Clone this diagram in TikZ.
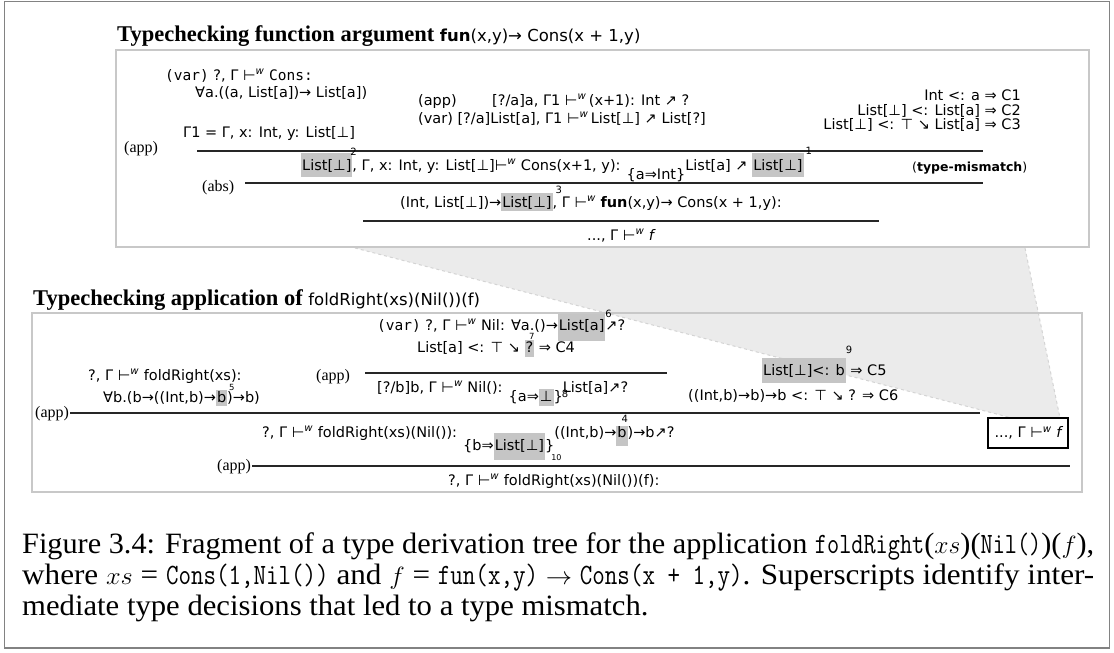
\documentclass[tikz,border=0pt]{standalone}
\usepackage{fontspec}
\usepackage{graphicx}
\setmainfont{Liberation Serif}
\setsansfont{DejaVu Sans}
\newfontfamily\dvmono{DejaVu Sans Mono}
\definecolor{hlgray}{RGB}{197,197,197}
\definecolor{boxgray}{RGB}{200,200,200}
\definecolor{framegray}{RGB}{130,130,130}
\definecolor{trapgray}{RGB}{235,235,235}
\definecolor{trapedge}{RGB}{212,212,212}
\newcommand\tw{⊢\textsuperscript{\itshape w}}
\newcommand\hlb[3]{{\setlength\fboxsep{0pt}\colorbox{hlgray}{\kern1pt\rule[-#2]{0pt}{\dimexpr#1+#2\relax}#3\kern1pt}}}
\newcommand\sn[3]{\rlap{\kern#2\raisebox{#1}{\fontsize{10}{10}\selectfont #3}}}
\newcommand\snsmall[3]{\rlap{\kern#2\raisebox{#1}{\fontsize{8.5}{9}\selectfont #3}}}
\newcommand\cm[1]{\scalebox{0.78}[1]{\ttfamily #1}}
\begin{document}
\begin{tikzpicture}[x=1pt,y=-1pt,
  dtext/.style={anchor=base west,inner sep=0pt,font=\fontsize{14.5}{17}\selectfont\sffamily},
  rtext/.style={anchor=base east,inner sep=0pt,font=\fontsize{14.5}{17}\selectfont\sffamily},
  rulelabel/.style={anchor=base west,inner sep=0pt,font=\fontsize{16}{18}\selectfont\rmfamily},
  heading/.style={anchor=base west,inner sep=0pt,font=\fontsize{22.5}{26}\selectfont\rmfamily\bfseries},
  captionline/.style={anchor=base west,inner sep=0pt,font=\fontsize{29.5}{31}\selectfont\rmfamily},
  ruleline/.style={draw=black!85,line width=1.2pt},
  panel/.style={draw=boxgray,line width=2pt},
  outerframe/.style={draw=framegray,line width=1.5pt}]
\useasboundingbox (0,0) rectangle (1114,653);
\draw[outerframe] (4.5,1.5) rectangle (1109.5,648);

% trapezoid joining the two panels
\coordinate (tz1) at (355,248);
\coordinate (tz2) at (1025,248);
\coordinate (tz3) at (1060,418);
\coordinate (tz4) at (1012,418);
\fill[trapgray] (tz1) -- (tz2) -- (tz3) -- (tz4) -- cycle;
\draw[trapedge,dashed,line width=1pt] (tz1) -- (tz4) (tz2) -- (tz3);

% ---------- top panel ----------
\node[heading] (h1) at (117,41) {Typechecking function argument \fontsize{16.5}{19}\selectfont\sffamily\mdseries{\bfseries fun}(x,y)→ Cons(x + 1,y)};
\draw[panel] (116,50) rectangle (1089,247);

\node[dtext] (t1) at (165,80) {{\dvmono (var)} ?, Γ \tw\ {\dvmono Cons:}};
\node[dtext] (t2) at (195,97) {∀a.((a, List[a])→ List[a])};
\node[dtext] (t3) at (183,137) {Γ1 = Γ, x: Int, y: List[⊥]};
\node[dtext] (t4a) at (418,105) {(app)};
\node[dtext] (t4b) at (492,105) {[?/a]a, Γ1 \tw\,(x+1): Int ↗ ?};
\node[dtext] (t5) at (418,123) {(var) [?/a]List[a], Γ1 \tw\,List[⊥] ↗ List[?]};
\node[rtext] (c1) at (1021,100) {Int <: a ⇒ C1};
\node[rtext] (c2) at (1021,115) {List[⊥] <: List[a] ⇒ C2};
\node[rtext] (c3) at (1021,129) {List[⊥] <: ⊤ ↘ List[a] ⇒ C3};

\node[rulelabel] (l1) at (124,152) {(app)};
\coordinate (r1a) at (197,151); \coordinate (r1b) at (983,151);
\draw[ruleline] (r1a) -- (r1b);

\node[dtext] (k1) at (301,170) {\hlb{17pt}{7pt}{List[⊥]}\sn{15pt}{-2pt}{2}, Γ, x: Int, y: List[⊥]\tw\ Cons(x+1, y): \raisebox{-9pt}{\{a⇒Int\}}List[a] ↗ \hlb{17pt}{7pt}{List[⊥]}\sn{16pt}{2pt}{1}};
\node[dtext,font=\fontsize{12.5}{15}\selectfont\sffamily] (tm) at (912,171) {(\textbf{type-mismatch})};

\node[rulelabel] (l2) at (202,191) {(abs)};
\coordinate (r2a) at (245,183); \coordinate (r2b) at (983,183);
\draw[ruleline] (r2a) -- (r2b);

\node[dtext] (k2) at (400,207) {(Int, List[⊥])→\hlb{14pt}{4pt}{List[⊥]}\sn{14pt}{3pt}{3}, Γ \tw\ \textbf{fun}(x,y)→ Cons(x + 1,y):};
\coordinate (r3a) at (363,221); \coordinate (r3b) at (879,221);
\draw[ruleline] (r3a) -- (r3b);
\node[dtext] (k3) at (587,240) {..., Γ \tw\ {\itshape f}};

% ---------- bottom panel ----------
\node[heading] (h2) at (33,305) {Typechecking application of \fontsize{16.5}{19}\selectfont\sffamily\mdseries foldRight(xs)(Nil())(f)};
\draw[panel] (32,313) rectangle (1082,492);

\node[dtext] (b1) at (377,330) {{\dvmono (var)} ?, Γ \tw\ Nil: ∀a.()→\hlb{16pt}{11pt}{List[a]}\sn{13pt}{0pt}{6}↗?};
\node[dtext] (b2) at (417,352) {List[a] <: ⊤ ↘ \hlb{12pt}{5pt}{?}\snsmall{12.5pt}{-5pt}{7}~⇒ C4};
\node[rulelabel] (l3) at (316,380) {(app)};
\coordinate (r4a) at (365,373); \coordinate (r4b) at (667,373);
\draw[ruleline] (r4a) -- (r4b);
\node[dtext] (b3) at (377,392) {[?/b]b, Γ \tw\ Nil(): \raisebox{-9pt}{\{a⇒\hlb{12pt}{5pt}{⊥}\}\sn{4pt}{-1pt}{8}}List[a]↗?};

\node[dtext] (b4) at (88,380) {?, Γ \tw\ foldRight(xs):};
\node[dtext] (b5) at (103,402) {∀b.(b→((Int,b)→\hlb{12pt}{4pt}{b}\snsmall{12pt}{2pt}{5})→b)};

\node[dtext] (b6) at (762,375) {\hlb{17pt}{8pt}{List[⊥]<: b}\sn{22pt}{0pt}{9} ⇒ C5};
\node[dtext] (b7) at (688,400) {((Int,b)→b)→b <: ⊤ ↘ ? ⇒ C6};

\node[rulelabel] (l4) at (35,417) {(app)};
\coordinate (r5a) at (70,413); \coordinate (r5b) at (980,413);
\draw[ruleline] (r5a) -- (r5b);

\node[dtext] (b8) at (262,437) {?, Γ \tw\ foldRight(xs)(Nil()): \raisebox{-13pt}{\{b⇒\hlb{17pt}{10pt}{List[⊥]}\}\sn{-10pt}{-3pt}{\fontsize{8}{8}\selectfont 10}}((Int,b)→\hlb{11pt}{9pt}{b}\sn{15pt}{-6pt}{4})→b↗?};
\node[draw=black,line width=1.6pt,minimum width=80pt,minimum height=30pt,inner sep=2pt,font=\fontsize{14.5}{17}\selectfont\sffamily] (fbox) at (1028,433) {..., Γ \tw\ {\itshape f}};

\node[rulelabel] (l5) at (217,470) {(app)};
\coordinate (r6a) at (252,466); \coordinate (r6b) at (1070,466);
\draw[ruleline] (r6a) -- (r6b);
\node[dtext] (b9) at (448,485) {?, Γ \tw\ foldRight(xs)(Nil())(f):};

% ---------- caption ----------
\node[captionline] (cap1) at (22,553) {\resizebox{1072pt}{\height}{Figure 3.4: Fragment of a type derivation tree for the application \cm{foldRight}($xs$)(\cm{Nil()})($f$),}};
\node[captionline] (cap2) at (22,584) {\resizebox{1072pt}{\height}{where $xs$ = \cm{Cons(1,Nil())} and $f$ = \cm{fun(x,y)} $\rightarrow$ \cm{Cons(x + 1,y)}. Superscripts identify inter-}};
\node[captionline] (cap3) at (22,615) {\scalebox{1.04}[1]{mediate type decisions that led to a type mismatch.}};
\end{tikzpicture}
\end{document}
